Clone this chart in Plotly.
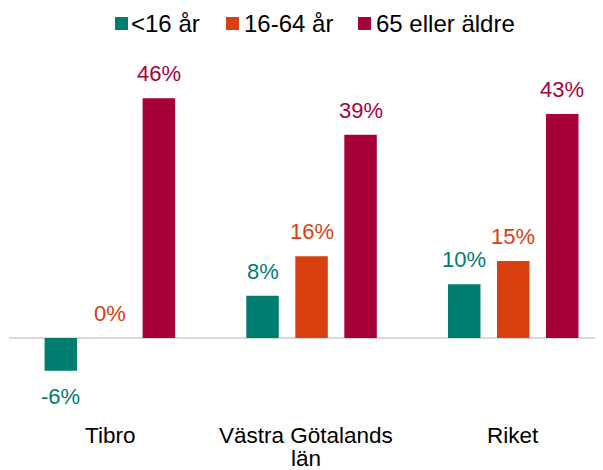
import plotly.graph_objects as go

categories = ["Tibro", "Västra Götalands län", "Riket"]
series_names = ["<16 år", "16-64 år", "65 eller äldre"]
under16 = [-6.3, 8.1, 10.3]
age16_64 = [0.0, 15.7, 14.8]
over65 = [46.0, 39.0, 43.0]

colors = ["#007D6E", "#D8400F", "#A8003A"]
series_values = [under16, age16_64, over65]

FONT = "Liberation Sans, Arial"
OFF = 8  # page body margin
W, H = 603 - OFF, 470 - OFF
ML, MR, MT, MB = 9 - OFF, 0, 50 - OFF, 52
PW = W - ML - MR
PH = H - MT - MB

BARGAP = 0.271
slot = (1 - BARGAP) / 3
offsets = [-slot, 0, slot]

fig = go.Figure()
x_idx = list(range(len(categories)))
for name, vals, col in zip(series_names, series_values, colors):
    fig.add_trace(go.Bar(x=x_idx, y=vals, name=name, marker_color=col,
                         marker_line_width=0, showlegend=False))

annotations = []
for vals, col, off in zip(series_values, colors, offsets):
    for i, v in enumerate(vals):
        neg = v < 0
        annotations.append(dict(
            x=i + off, y=v, xref="x", yref="y",
            text=f"{round(v)}%", showarrow=False,
            font=dict(family=FONT, size=22, color=col),
            yanchor="top" if neg else "bottom",
            yshift=-11 if neg else 10,
        ))

def px_x(px):
    return (px - OFF - ML) / PW

def px_y(py):
    return (H - MB - (py - OFF)) / PH

# category labels (wrapped like the reference)
wrap = {"Västra Götalands län": ["Västra Götalands", "län"]}
for i, cat in enumerate(categories):
    lines = wrap.get(cat, [cat])
    for j, line in enumerate(lines):
        annotations.append(dict(x=i, y=px_y(435 + 23.5 * j), xref="x", yref="paper",
                                text=line, showarrow=False, xanchor="center", yanchor="middle",
                                xshift=-6 if len(lines) > 1 else 0,
                                font=dict(family=FONT, size=22.5, color="#000000")))

# manual legend
leg_sq = [(115, 128), (226, 239), (358, 371)]
leg_tx = [131, 244, 376]
shapes = []
for (a, b), tx, name, col in zip(leg_sq, leg_tx, series_names, colors):
    shapes.append(dict(type="rect", xref="paper", yref="paper",
                       x0=px_x(a), x1=px_x(b), y0=px_y(30), y1=px_y(17),
                       fillcolor=col, line=dict(width=0)))
    annotations.append(dict(x=px_x(tx - 2), y=px_y(23.5), xref="paper", yref="paper",
                            text=name, showarrow=False, xanchor="left", yanchor="middle",
                            font=dict(family=FONT, size=24, color="#000000")))

fig.update_layout(
    width=W, height=H,
    margin=dict(l=ML, r=MR, t=MT, b=MB, autoexpand=False),
    paper_bgcolor="white", plot_bgcolor="white",
    barmode="group", bargap=BARGAP, bargroupgap=0.337,
    font=dict(family=FONT, size=22, color="#000000"),
    xaxis=dict(range=[-0.5, 2.445], tickvals=x_idx, showticklabels=False,
               showgrid=False, zeroline=False, showline=False, ticks="",
               automargin=False),
    yaxis=dict(range=[-15.36, 55.28], showgrid=False, showticklabels=False,
               zeroline=True, zerolinecolor="#D9D9D9", zerolinewidth=2,
               showline=False, ticks="", automargin=False),
    annotations=annotations,
    shapes=shapes,
    showlegend=False,
)

fig.write_html("out.html")
